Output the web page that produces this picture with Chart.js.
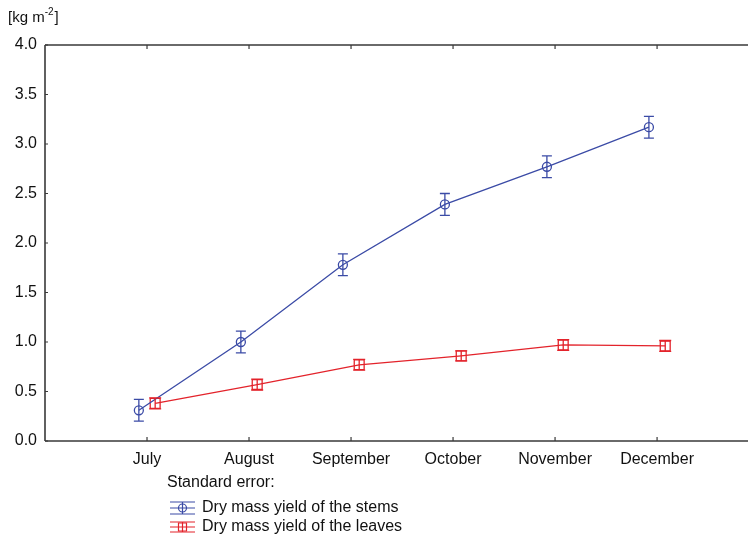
<!DOCTYPE html>
<html>
<head>
<meta charset="utf-8">
<script src="https://cdn.jsdelivr.net/npm/chart.js@4.4.1/dist/chart.umd.min.js"></script>
<style>
  html, body { margin: 0; padding: 0; background: #fff; overflow: hidden; }
  #wrap { width: 748px; height: 537px; position: relative; }
</style>
</head>
<body>
<div id="wrap"><canvas id="c"></canvas></div>
<script>
// Miesiace i wartosci
const months = ['July', 'August', 'September', 'October', 'November', 'December'];
const stems = [0.31, 1.00, 1.78, 2.39, 2.77, 3.17];
const stemsErr = [0.11, 0.11, 0.11, 0.11, 0.11, 0.11];
const leaves = [0.38, 0.57, 0.77, 0.86, 0.97, 0.96];
const leavesErr = [0.055, 0.055, 0.055, 0.05, 0.055, 0.055];
const yTicks = [0, 0.5, 1, 1.5, 2, 2.5, 3, 3.5, 4];

const BLUE = '#3b4ba6';
const RED = '#e3232b';
const AXIS = '#3a3a3a';
const FONT = '"Liberation Sans", Arial, sans-serif';
const SHIFT = 0.08; // przesuniecie serii wzgledem kategorii

const pts = (vals, dx) => vals.map((v, i) => ({ x: i + dx, y: v }));

// slupki bledu + ramka z wewnetrznymi kreskami
const errorBars = {
  id: 'errorBars',
  afterDatasetsDraw(chart) {
    const { ctx, scales: { x, y }, chartArea: a } = chart;
    ctx.save();
    chart.data.datasets.forEach(ds => {
      if (!ds.errors) return;
      ctx.strokeStyle = ds.borderColor;
      ctx.lineWidth = 1.3;
      const cap = ds.capHalf;
      ds.data.forEach((p, i) => {
        const px = x.getPixelForValue(p.x);
        const y1 = y.getPixelForValue(p.y + ds.errors[i]);
        const y2 = y.getPixelForValue(p.y - ds.errors[i]);
        ctx.beginPath();
        ctx.moveTo(px, y1); ctx.lineTo(px, y2);
        ctx.moveTo(px - cap, y1); ctx.lineTo(px + cap, y1);
        ctx.moveTo(px - cap, y2); ctx.lineTo(px + cap, y2);
        ctx.stroke();
      });
    });
    // ramka: gora, dol, lewo (do prawej krawedzi obrazka)
    ctx.strokeStyle = AXIS;
    ctx.lineWidth = 1.6;
    ctx.beginPath();
    ctx.moveTo(a.left, a.top); ctx.lineTo(chart.width, a.top);
    ctx.moveTo(a.left, a.bottom); ctx.lineTo(chart.width, a.bottom);
    ctx.moveTo(a.left, a.top); ctx.lineTo(a.left, a.bottom);
    ctx.stroke();
    ctx.lineWidth = 1.2;
    ctx.beginPath();
    months.forEach((m, i) => {
      const px = x.getPixelForValue(i);
      ctx.moveTo(px, a.bottom); ctx.lineTo(px, a.bottom - 4);
      ctx.moveTo(px, a.top); ctx.lineTo(px, a.top + 4);
    });
    yTicks.forEach(v => {
      const py = y.getPixelForValue(v);
      ctx.moveTo(a.left, py); ctx.lineTo(a.left + 3, py);
    });
    ctx.stroke();
    ctx.restore();
  }
};

// jednostka osi Y i legenda pod wykresem
const annot = {
  id: 'annot',
  afterDraw(chart) {
    const { ctx } = chart;
    ctx.save();
    ctx.fillStyle = '#111';
    ctx.textBaseline = 'middle';
    ctx.textAlign = 'left';
    ctx.font = '15px ' + FONT;
    let tx = 8;
    ctx.fillText('[kg m', tx, 18);
    tx += ctx.measureText('[kg m').width;
    ctx.font = '10px ' + FONT;
    ctx.fillText('-2', tx, 12);
    tx += ctx.measureText('-2').width;
    ctx.font = '15px ' + FONT;
    ctx.fillText(']', tx + 1, 18);

    ctx.font = '16px ' + FONT;
    ctx.fillText('Standard error:', 167, 483);
    chart.data.datasets.forEach((ds, i) => {
      const cy = 508 + i * 19;
      const x0 = 170, x1 = 195, cx = (x0 + x1) / 2;
      const h = i === 0 ? 6 : 5;
      ctx.strokeStyle = ds.borderColor;
      ctx.lineWidth = 1.2;
      ctx.beginPath();
      ctx.moveTo(x0, cy - h); ctx.lineTo(x1, cy - h);
      ctx.moveTo(x0, cy); ctx.lineTo(x1, cy);
      ctx.moveTo(x0, cy + h); ctx.lineTo(x1, cy + h);
      ctx.moveTo(cx, cy - h); ctx.lineTo(cx, cy + h);
      ctx.stroke();
      ctx.beginPath();
      if (ds.pointStyle === 'circle') ctx.arc(cx, cy, 4, 0, Math.PI * 2);
      else ctx.rect(cx - 4, cy - 4, 8, 8);
      ctx.stroke();
      ctx.fillStyle = '#111';
      ctx.fillText(ds.label, 202, cy);
    });
    ctx.restore();
  }
};

new Chart(document.getElementById('c'), {
  type: 'line',
  data: {
    datasets: [
      {
        label: 'Dry mass yield of the stems',
        data: pts(stems, -SHIFT),
        errors: stemsErr,
        capHalf: 5,
        borderColor: BLUE,
        backgroundColor: 'rgba(0,0,0,0)',
        borderWidth: 1.3,
        pointStyle: 'circle',
        pointRadius: 4.5,
        pointBorderWidth: 1.3,
        tension: 0
      },
      {
        label: 'Dry mass yield of the leaves',
        data: pts(leaves, SHIFT),
        errors: leavesErr,
        capHalf: 6,
        borderColor: RED,
        backgroundColor: 'rgba(0,0,0,0)',
        borderWidth: 1.3,
        pointStyle: 'rect',
        pointRadius: 7,
        pointBorderWidth: 1.3,
        tension: 0
      }
    ]
  },
  options: {
    responsive: true,
    maintainAspectRatio: false,
    animation: false,
    layout: { padding: { top: 45, right: 0, left: 0, bottom: 0 } },
    plugins: { legend: { display: false }, tooltip: { enabled: false } },
    scales: {
      x: {
        type: 'linear',
        min: -1,
        max: 5.81,
        afterBuildTicks: s => { s.ticks = months.map((m, i) => ({ value: i })); },
        afterFit: s => { s.height = 96; s.paddingLeft = 0; s.paddingRight = 0; },
        grid: { display: false, drawTicks: false },
        border: { display: false },
        ticks: {
          padding: 9,
          color: '#111',
          font: { family: FONT, size: 16 },
          callback: v => months[v]
        }
      },
      y: {
        min: 0,
        max: 4,
        afterBuildTicks: s => { s.ticks = yTicks.map(v => ({ value: v })); },
        afterFit: s => { s.width = 45; },
        grid: { display: false, drawTicks: false },
        border: { display: false },
        ticks: {
          padding: 8,
          color: '#111',
          font: { family: FONT, size: 16 },
          callback: v => v.toFixed(1)
        }
      }
    }
  },
  plugins: [errorBars, annot]
});
</script>
</body>
</html>
